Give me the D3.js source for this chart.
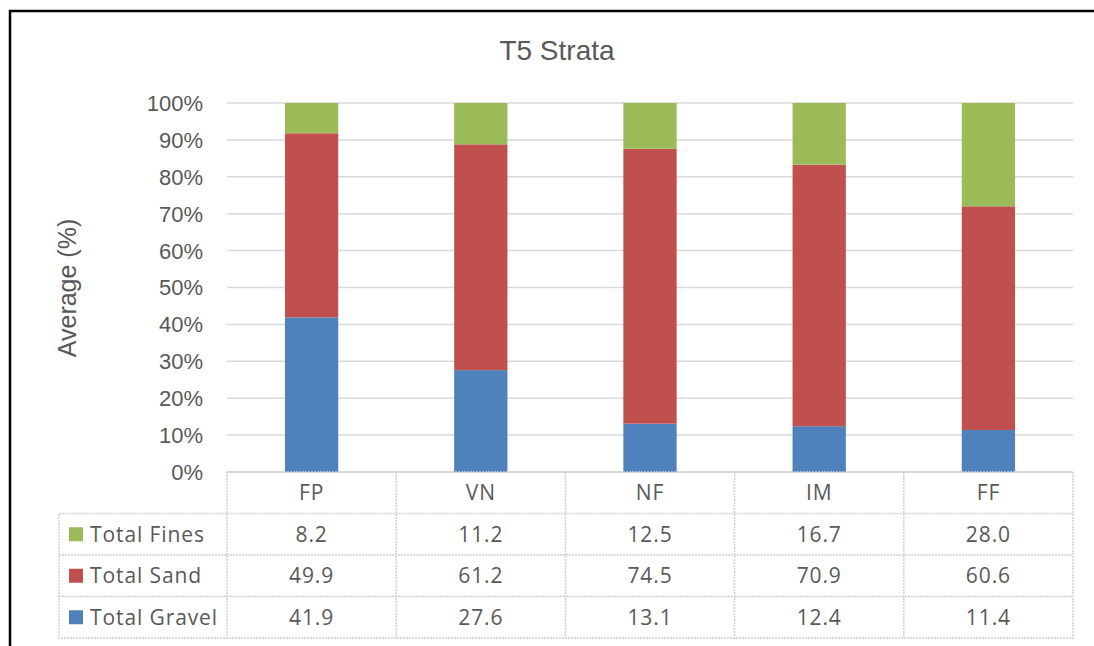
<!DOCTYPE html>
<html lang="en">
<head>
  <meta charset="UTF-8">
  <title>T5 Strata</title>
  <style>
    body { margin: 0; padding: 0; background: #fff; }
    svg { display: block; }
    text { fill: #595959; }
    .tick-label { font: 22px 'Liberation Sans', Arial, sans-serif; }
    .cell { font: 21px 'Open Sans', 'Liberation Sans', sans-serif; letter-spacing: 0.9px; }
    .grid line { stroke: #d9d9d9; stroke-width: 1.5px; }
    .table-line { stroke: #d0d0d0; stroke-width: 1.5px; stroke-dasharray: 2 1; fill: none; }
  </style>
</head>
<body>
  <svg width="1094" height="646"></svg>

  <script src="https://d3js.org/d3.v7.min.js"></script>
  <script>
    const categories = ["FP", "VN", "NF", "IM", "FF"];
    const totalGravel = [41.9, 27.6, 13.1, 12.4, 11.4];
    const totalSand = [49.9, 61.2, 74.5, 70.9, 60.6];
    const totalFines = [8.2, 11.2, 12.5, 16.7, 28.0];
    const yTicks = [0, 10, 20, 30, 40, 50, 60, 70, 80, 90, 100];

    // stacking order bottom -> top
    const series = [
      { name: "Total Gravel", values: totalGravel, color: "#4f81bd" },
      { name: "Total Sand", values: totalSand, color: "#c0504d" },
      { name: "Total Fines", values: totalFines, color: "#9bbb59" }
    ];
    // table rows top -> bottom
    const tableRows = [series[2], series[1], series[0]];

    const svg = d3.select("svg");

    // outer frame (left + top)
    svg.append("path")
      .attr("d", "M10,646V11H1094")
      .attr("fill", "none")
      .attr("stroke", "#000")
      .attr("stroke-width", 2.5);

    const plotLeft = 227, plotRight = 1073, plotTop = 103, plotBottom = 472;
    const rowH = 41.5;

    const x = d3.scaleBand().domain(categories).range([plotLeft, plotRight]).paddingInner(0).paddingOuter(0);
    const y = d3.scaleLinear().domain([0, 100]).range([plotBottom, plotTop]);

    // gridlines
    svg.append("g").attr("class", "grid")
      .selectAll("line")
      .data(yTicks)
      .enter().append("line")
      .attr("x1", plotLeft).attr("x2", plotRight)
      .attr("y1", d => y(d)).attr("y2", d => y(d));

    svg.append("g")
      .selectAll("text")
      .data(yTicks)
      .enter().append("text")
      .attr("class", "tick-label")
      .attr("x", 203)
      .attr("y", d => y(d))
      .attr("dy", "0.36em")
      .attr("text-anchor", "end")
      .text(d => d + "%");

    // stacked bars
    const rows = categories.map((c, i) => {
      const r = { cat: c };
      series.forEach(s => r[s.name] = s.values[i]);
      return r;
    });
    const stack = d3.stack().keys(series.map(s => s.name))(rows);
    const barW = x.bandwidth() * 0.315;

    svg.append("g")
      .selectAll("g")
      .data(stack)
      .enter().append("g")
      .attr("fill", (d, i) => series[i].color)
      .selectAll("rect")
      .data(d => d)
      .enter().append("rect")
      .attr("x", d => x(d.data.cat) + x.bandwidth() / 2 - barW / 2)
      .attr("width", barW)
      .attr("y", d => y(Math.min(d[1], 100)))
      .attr("height", d => y(d[0]) - y(Math.min(d[1], 100)));

    // title
    svg.append("text")
      .attr("x", 557).attr("y", 60)
      .attr("text-anchor", "middle")
      .style("font", "28px 'Liberation Sans', Arial, sans-serif")
      .text("T5 Strata");

    // axis title
    svg.append("text")
      .attr("transform", `translate(76,288) rotate(-90)`)
      .attr("text-anchor", "middle")
      .style("font", "25px 'Liberation Sans', Arial, sans-serif")
      .text("Average (%)");

    // data table
    const tbl = svg.append("g");
    const tLeft = 59;
    const tBottom = plotBottom + rowH * 4;

    tbl.append("path").attr("class", "table-line")
      .attr("d", `M${plotLeft},${plotBottom}H${plotRight}V${tBottom}H${tLeft}V${plotBottom + rowH}H${plotRight}`);
    [1, 2].forEach(k => {
      tbl.append("line").attr("class", "table-line")
        .attr("x1", tLeft).attr("x2", plotRight)
        .attr("y1", plotBottom + rowH * (k + 1)).attr("y2", plotBottom + rowH * (k + 1));
    });
    categories.forEach(c => {
      tbl.append("line").attr("class", "table-line")
        .attr("x1", x(c)).attr("x2", x(c))
        .attr("y1", plotBottom).attr("y2", tBottom);
    });

    tbl.selectAll(".hdr")
      .data(categories)
      .enter().append("text")
      .attr("class", "cell")
      .attr("x", d => x(d) + x.bandwidth() / 2)
      .attr("y", plotBottom + rowH / 2)
      .attr("dy", "0.36em")
      .attr("text-anchor", "middle")
      .text(d => d);

    tableRows.forEach((s, r) => {
      const cy = plotBottom + rowH * (r + 1) + rowH / 2;
      tbl.append("rect")
        .attr("x", 69).attr("y", cy - 7)
        .attr("width", 14).attr("height", 14)
        .attr("fill", s.color);
      tbl.append("text")
        .attr("class", "cell")
        .attr("x", 90).attr("y", cy)
        .attr("dy", "0.36em")
        .text(s.name);
      tbl.selectAll(null)
        .data(s.values)
        .enter().append("text")
        .attr("class", "cell")
        .attr("x", (d, i) => x(categories[i]) + x.bandwidth() / 2)
        .attr("y", cy)
        .attr("dy", "0.36em")
        .attr("text-anchor", "middle")
        .text(d => d.toFixed(1));
    });
  </script>
</body>
</html>
